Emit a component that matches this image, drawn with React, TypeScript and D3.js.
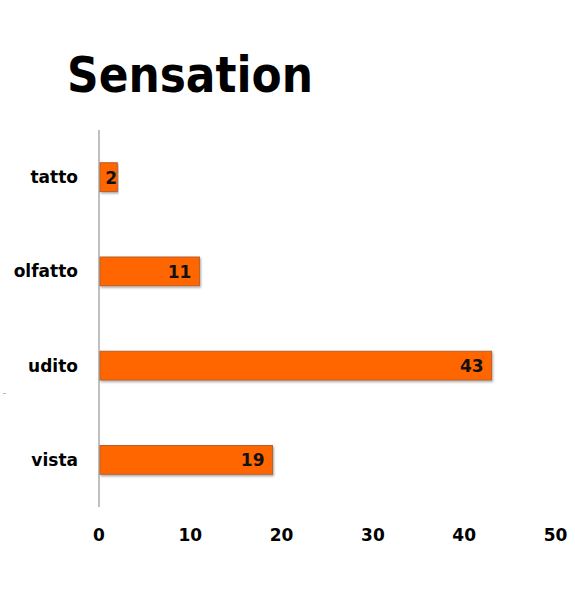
import React from "react";
import * as d3 from "d3";

// Chart data
const categories = ["tatto", "olfatto", "udito", "vista"];
const values = [2, 11, 43, 19];
const xTicks = [0, 10, 20, 30, 40, 50];
const title = "Sensation";

const W = 575;
const H = 604;
const FONT = "'DejaVu Sans', sans-serif";

export default function App() {
  const x = d3.scaleLinear().domain([0, 50]).range([99, 555.5]);
  const y = d3
    .scaleBand<string>()
    .domain(categories)
    .range([130, 507])
    .paddingInner(0.695)
    .paddingOuter(0.3475);

  const bw = y.bandwidth();

  return (
    <svg
      width={W}
      height={H}
      style={{ position: "absolute", left: 0, top: 0, background: "#fff" }}
    >
      <defs>
        <filter id="barShadow" x="-5%" y="-20%" width="115%" height="160%">
          <feDropShadow dx="1" dy="1.5" stdDeviation="1" floodColor="#000" floodOpacity="0.35" />
        </filter>
      </defs>
      <rect width={W} height={H} fill="#fff" />

      <text
        x={67}
        y={92}
        fontFamily={FONT}
        fontWeight="bold"
        fontSize={50}
        fill="#000"
        textLength={246}
        lengthAdjust="spacingAndGlyphs"
      >
        {title}
      </text>

      {/* small stray tick at the left edge */}
      <line x1={3} x2={6} y1={393.5} y2={393.5} stroke="#bbb" strokeWidth={1} />

      {/* category axis line */}
      <line x1={99} x2={99} y1={130} y2={507} stroke="#c0c0c0" strokeWidth={2} />

      {categories.map((c, i) => {
        const v = values[i];
        const y0 = y(c)!;
        const x1 = x(v);
        const labelX = Math.max(x1 - 8, x(0) + 18);
        return (
          <g key={c}>
            <rect
              x={x(0) + 1}
              y={y0}
              width={x1 - x(0) - 1}
              height={bw}
              fill="#ff6600"
              stroke="#b9602a"
              strokeWidth={1}
              filter="url(#barShadow)"
            />
            <text
              x={labelX}
              y={y0 + bw / 2 + 6.5}
              textAnchor="end"
              fontFamily={FONT}
              fontWeight="bold"
              fontSize={17}
              fill="#111"
            >
              {v}
            </text>
            <text
              x={78}
              y={y0 + bw / 2 + 6}
              textAnchor="end"
              fontFamily={FONT}
              fontWeight="bold"
              fontSize={17}
              fill="#000"
            >
              {c}
            </text>
          </g>
        );
      })}

      {xTicks.map((t) => (
        <text
          key={t}
          x={x(t)}
          y={540.5}
          textAnchor="middle"
          fontFamily={FONT}
          fontWeight="bold"
          fontSize={17}
          fill="#000"
        >
          {t}
        </text>
      ))}
    </svg>
  );
}
